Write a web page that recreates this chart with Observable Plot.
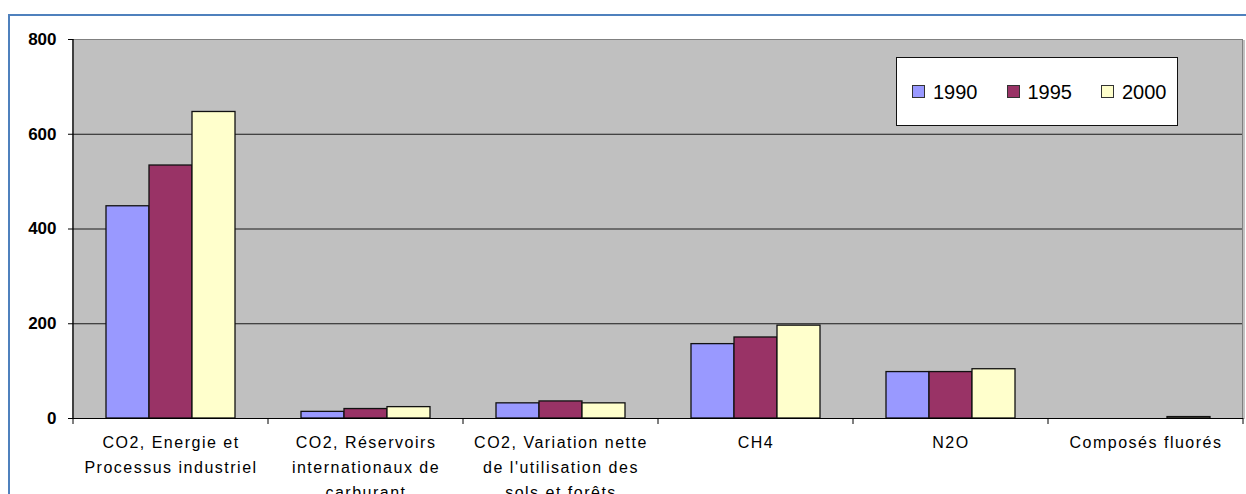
<!DOCTYPE html>
<html><head><meta charset="utf-8">
<script src="https://cdn.jsdelivr.net/npm/d3@7"></script>
<script src="https://cdn.jsdelivr.net/npm/@observablehq/plot@0.6"></script>
<style>
html,body{margin:0;padding:0;width:1246px;height:494px;overflow:hidden;background:#fff;font-family:"Liberation Sans",Arial,sans-serif;}
#frame{position:absolute;left:8px;top:14px;width:1300px;height:600px;border:2px solid #4f81bd;box-sizing:border-box;}
#chart{position:absolute;left:0;top:0;}
#chart svg g[aria-label="text"] text{letter-spacing:1.5px;}
#chart svg g[aria-label="frame"] rect{shape-rendering:crispEdges;}
#legend{position:absolute;left:896px;top:57px;width:282px;height:69px;box-sizing:border-box;border:1.5px solid #111;background:#fff;display:flex;align-items:center;padding-left:15px;}
.item{display:flex;align-items:center;margin-right:29px;font-size:20px;color:#000;line-height:1;}
.sw{width:11px;height:11px;border:1.5px solid #333;margin-right:8px;}
</style></head><body>
<div id="frame"></div><div id="chart"></div><div id="legend"></div>
<script>
const categories = [
  "CO2, Energie et\nProcessus industriel",
  "CO2, Réservoirs\ninternationaux de\ncarburant",
  "CO2, Variation nette\nde l'utilisation des\nsols et forêts",
  "CH4",
  "N2O",
  "Composés fluorés"
];
const years = ["1990", "1995", "2000"];
const values1990 = [448, 14, 32, 157, 98, 0];
const values1995 = [534, 20, 36, 171, 98, 0];
const values2000 = [647, 24, 32, 196, 104, 3];
const colors = ["#9999ff", "#993366", "#ffffcc"];
const yTicks = [0, 200, 400, 600, 800];

const series = [values1990, values1995, values2000];
const data = categories.flatMap((c, i) => years.map((yr, j) => ({category: c, year: yr, value: series[j][i]})));

const plot = Plot.plot({
  width: 1246, height: 530,
  marginTop: 39, marginLeft: 72, marginRight: 3, marginBottom: 112,
  style: {fontFamily: "Liberation Sans, Arial, sans-serif", color: "#000", background: "transparent", overflow: "visible"},
  fx: {domain: categories, padding: 0, round: true, axis: null, label: null},
  x: {domain: years, paddingInner: 0, paddingOuter: 0.75, axis: null, label: null},
  y: {domain: [0, 800], axis: null},
  color: {domain: years, range: colors},
  marks: [
    Plot.frame({fill: "#c0c0c0", stroke: "none", insetRight: -1}),
    Plot.ruleY(yTicks.slice(1, -1), {stroke: "#1a1a1a", strokeWidth: 1}),
    Plot.ruleY([800], {stroke: "#808080", strokeWidth: 1}),
    Plot.barY(data, {fx: "category", x: "year", y: "value", fill: "year", stroke: "#111", strokeWidth: 1.3}),
    Plot.ruleY([0], {stroke: "#000", strokeWidth: 1}),
    Plot.axisY(yTicks, {tickSize: 5, tickPadding: 12, fontSize: 17, fontWeight: "bold", label: null}),
    Plot.text(categories, {fx: d => d, text: d => d, frameAnchor: "bottom", lineAnchor: "top", dy: 12, fontSize: 16, lineHeight: 1.55, fill: "#000"})
  ]
});
document.getElementById("chart").appendChild(plot);

// axis line, category boundary ticks and right border, positioned from the plot's own scales
const svg = d3.select(plot);
const fx = plot.scale("fx"), ys = plot.scale("y");
const y0 = ys.apply(0), yTop = ys.apply(800);
const edges = categories.map(c => fx.apply(c));
edges.push(fx.apply(categories[categories.length - 1]) + fx.bandwidth);
const g = svg.append("g");
g.append("line").attr("x1", edges[0]).attr("x2", edges[0]).attr("y1", yTop).attr("y2", y0).attr("stroke", "#000").attr("stroke-width", 1.5);
g.append("line").attr("x1", edges[edges.length - 1] - 0.5).attr("x2", edges[edges.length - 1] - 0.5).attr("y1", yTop).attr("y2", y0).attr("stroke", "#808080");
edges.forEach(x => g.append("line").attr("x1", x).attr("x2", x).attr("y1", y0).attr("y2", y0 + 6).attr("stroke", "#000"));

// legend
const legend = document.getElementById("legend");
years.forEach((yr, i) => {
  const it = document.createElement("div"); it.className = "item";
  const sw = document.createElement("div"); sw.className = "sw"; sw.style.background = colors[i];
  const t = document.createElement("span"); t.textContent = yr;
  it.appendChild(sw); it.appendChild(t); legend.appendChild(it);
});
</script>
</body></html>
